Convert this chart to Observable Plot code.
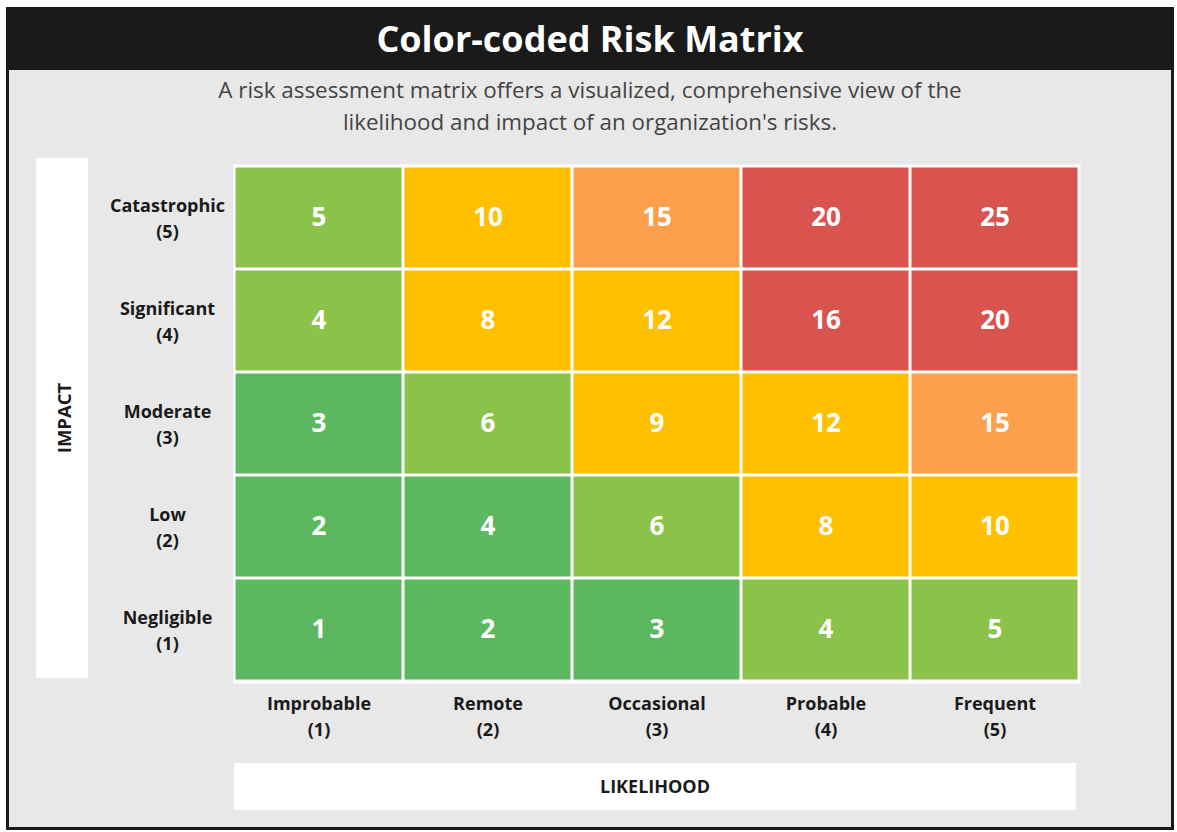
<!DOCTYPE html>
<html>
<head>
<meta charset="utf-8">
<script src="https://cdn.jsdelivr.net/npm/d3@7"></script>
<script src="https://cdn.jsdelivr.net/npm/@observablehq/plot@0.6"></script>
<style>
  html, body { margin: 0; padding: 0; background: #ffffff; width: 1177px; height: 832px; overflow: hidden; font-family: "Open Sans", sans-serif; }
  #frame { position: absolute; left: 6px; top: 7px; width: 1168px; height: 823px; box-sizing: border-box; border: 3px solid #1a1a1a; background: #e8e8e8; }
  #titlebar { position: absolute; left: 6px; top: 7px; width: 1168px; height: 63px; background: #1a1a1a; color: #fff; font-weight: 700; font-size: 36px; text-align: center; line-height: 63px; }
  #subtitle { position: absolute; left: 6px; top: 74px; width: 1168px; text-align: center; color: #444; font-size: 22.4px; line-height: 32px; }
  #impactBox { position: absolute; left: 36px; top: 158px; width: 52px; height: 520px; background: #fff; }
  #impactLabel { position: absolute; left: 63px; top: 418px; transform: translate(-50%, -50%) rotate(-90deg); font-weight: 700; font-size: 18.5px; color: #1a1a1a; white-space: nowrap; }
  #likeBox { position: absolute; left: 234px; top: 763px; width: 842px; height: 47px; background: #fff; text-align: center; line-height: 47px; font-weight: 700; font-size: 18px; color: #1a1a1a; }
  #chart { position: absolute; left: 0; top: 150px; }
</style>
</head>
<body>
<div id="frame"></div>
<div id="titlebar">Color-coded Risk Matrix</div>
<div id="subtitle">A risk assessment matrix offers a visualized, comprehensive view of the<br>likelihood and impact of an organization's risks.</div>
<div id="impactBox"></div>
<div id="impactLabel">IMPACT</div>
<div id="likeBox">LIKELIHOOD</div>
<div id="chart"></div>
<script>
// Categories (bottom to top for impact, left to right for likelihood)
const likelihood = ["Improbable", "Remote", "Occasional", "Probable", "Frequent"];
const likelihoodScore = [1, 2, 3, 4, 5];
const impact = ["Negligible", "Low", "Moderate", "Significant", "Catastrophic"];
const impactScore = [1, 2, 3, 4, 5];

// Cell values, one row per impact level (Negligible first)
const scores = [
  [1, 2, 3, 4, 5],
  [2, 4, 6, 8, 10],
  [3, 6, 9, 12, 15],
  [4, 8, 12, 16, 20],
  [5, 10, 15, 20, 25]
];

// Risk level of each cell, same layout as scores
const levels = [
  ["Very low", "Very low", "Very low", "Low", "Low"],
  ["Very low", "Very low", "Low", "Medium", "Medium"],
  ["Very low", "Low", "Medium", "Medium", "High"],
  ["Low", "Medium", "Medium", "Very high", "Very high"],
  ["Low", "Medium", "High", "Very high", "Very high"]
];

const levelNames = ["Very low", "Low", "Medium", "High", "Very high"];
const levelColors = ["#5cb85f", "#8bc34a", "#ffc000", "#fda04e", "#d9534f"];

const xLabel = (name, i) => `${name}\n(${likelihoodScore[i]})`;
const yLabel = (name, i) => `${name}\n(${impactScore[i]})`;
const xTicks = likelihood.map(xLabel);
const yTicks = impact.map(yLabel);

const cells = [];
impact.forEach((imp, r) => {
  likelihood.forEach((lik, c) => {
    cells.push({ x: xTicks[c], y: yTicks[r], value: scores[r][c], level: levels[r][c] });
  });
});

const chart = Plot.plot({
  width: 1177,
  height: 680,
  marginLeft: 233,
  marginRight: 97,
  marginTop: 14,
  marginBottom: 147,
  style: { fontFamily: "Open Sans, sans-serif", background: "transparent", color: "#1a1a1a" },
  x: { domain: xTicks, padding: 0, label: null },
  y: { domain: yTicks.slice().reverse(), padding: 0, label: null },
  color: { domain: levelNames, range: levelColors },
  marks: [
    Plot.frame({ fill: "#ffffff", stroke: null }),
    Plot.cell(cells, { x: "x", y: "y", fill: "level", inset: 1.5 }),
    Plot.text(cells, { x: "x", y: "y", text: d => String(d.value), fill: "#ffffff", fontSize: 26, fontWeight: 700 }),
    Plot.axisX({ anchor: "bottom", tickSize: 0, tickPadding: 9, fontSize: 18, fontWeight: 700, lineHeight: 1.4, lineAnchor: "top", label: null }),
    Plot.axisY({ anchor: "left", tickSize: 0, tickPadding: 66, textAnchor: "middle", fontSize: 18, fontWeight: 700, lineHeight: 1.4, lineAnchor: "middle", label: null, dy: -1 })
  ]
});
document.getElementById("chart").appendChild(chart);
</script>
</body>
</html>
